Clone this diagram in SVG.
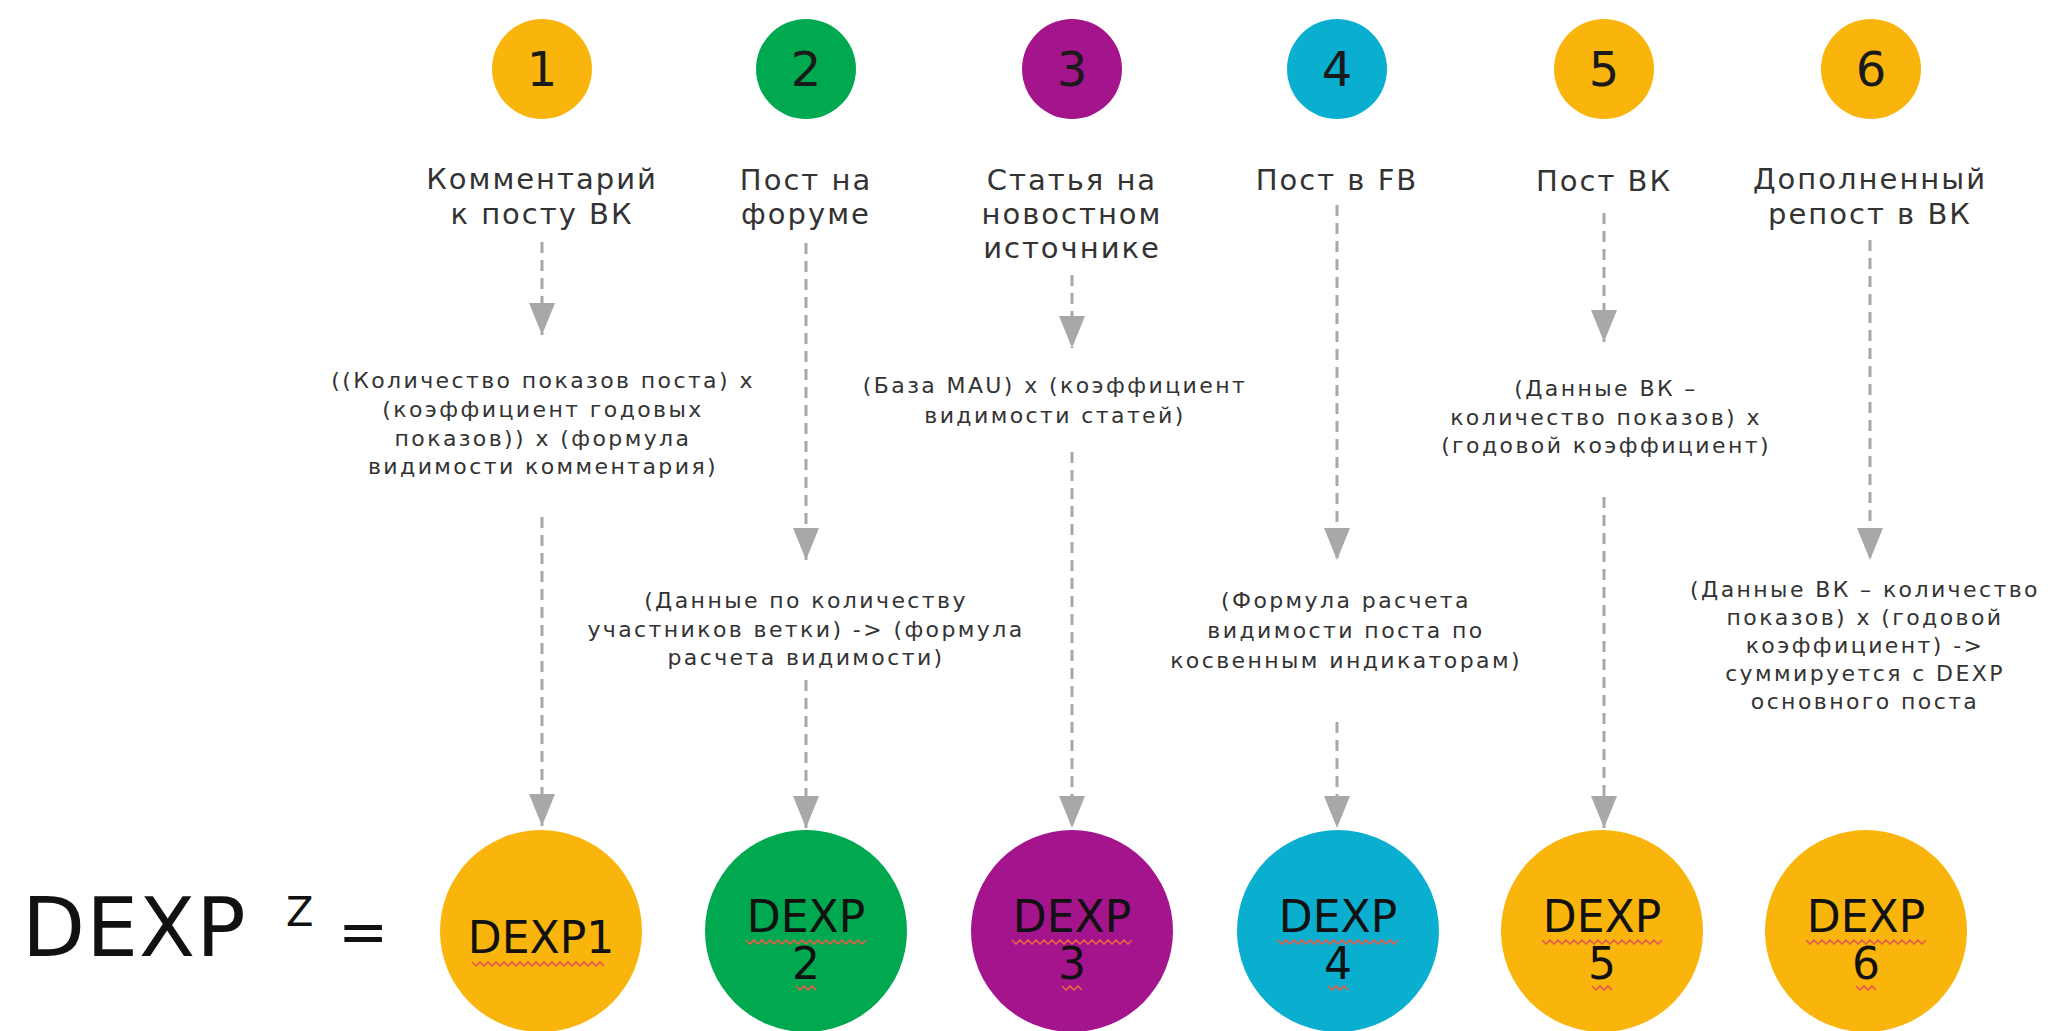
<svg xmlns="http://www.w3.org/2000/svg" width="2052" height="1031" viewBox="0 0 2052 1031">
<style>
.num{font-family:"DejaVu Sans",sans-serif;font-size:48px;fill:#1a1a1a;text-anchor:middle}
.title{font-family:"DejaVu Sans",sans-serif;font-size:29px;fill:#333;text-anchor:middle;letter-spacing:2px}
.form{font-family:"DejaVu Sans",sans-serif;font-size:22px;fill:#333;text-anchor:middle;letter-spacing:2.4px}
.dexp{font-family:"DejaVu Sans",sans-serif;font-size:44px;fill:#111;text-anchor:middle}
.big{font-family:"DejaVu Sans",sans-serif;fill:#111}
.conn{stroke:#a8a8a8;stroke-width:3;stroke-dasharray:11 7;fill:none}
.sq{stroke:#e85c4a;stroke-width:1.6;fill:none}
.y{fill:#f9b50c}.g{fill:#00a84f}.p{fill:#a3148d}.c{fill:#0aafd0}
</style>
<defs>
<marker id="ah" markerUnits="userSpaceOnUse" markerWidth="32" markerHeight="26" refX="32" refY="13" orient="auto" viewBox="0 0 32 26">
<path d="M0,0 L32,13 L0,26 Z" fill="#a8a8a8"/>
</marker>
</defs>
<rect width="2052" height="1031" fill="#fff"/>

<g id="connectors">
<line class="conn" x1="542" y1="242" x2="542" y2="335" marker-end="url(#ah)"/>
<line class="conn" x1="542" y1="517" x2="542" y2="826" marker-end="url(#ah)"/>
<line class="conn" x1="806" y1="243" x2="806" y2="560" marker-end="url(#ah)"/>
<line class="conn" x1="806" y1="680" x2="806" y2="828" marker-end="url(#ah)"/>
<line class="conn" x1="1072" y1="275" x2="1072" y2="348" marker-end="url(#ah)"/>
<line class="conn" x1="1072" y1="452" x2="1072" y2="828" marker-end="url(#ah)"/>
<line class="conn" x1="1337" y1="205" x2="1337" y2="560" marker-end="url(#ah)"/>
<line class="conn" x1="1337" y1="722" x2="1337" y2="828" marker-end="url(#ah)"/>
<line class="conn" x1="1604" y1="213" x2="1604" y2="342" marker-end="url(#ah)"/>
<line class="conn" x1="1604" y1="497" x2="1604" y2="828" marker-end="url(#ah)"/>
<line class="conn" x1="1870" y1="240" x2="1870" y2="560" marker-end="url(#ah)"/>
</g>

<g id="badge1"><circle class="y" cx="542" cy="69" r="50"/><text class="num" x="542" y="86">1</text></g>
<g id="badge2"><circle class="g" cx="806" cy="69" r="50"/><text class="num" x="806" y="86">2</text></g>
<g id="badge3"><circle class="p" cx="1072" cy="69" r="50"/><text class="num" x="1072" y="86">3</text></g>
<g id="badge4"><circle class="c" cx="1337" cy="69" r="50"/><text class="num" x="1337" y="86">4</text></g>
<g id="badge5"><circle class="y" cx="1604" cy="69" r="50"/><text class="num" x="1604" y="86">5</text></g>
<g id="badge6"><circle class="y" cx="1871" cy="69" r="50"/><text class="num" x="1871" y="86">6</text></g>

<g id="title1"><text class="title" x="542" y="189">Комментарий</text><text class="title" x="542" y="224">к посту ВК</text></g>
<g id="title2"><text class="title" x="806" y="190">Пост на</text><text class="title" x="806" y="224">форуме</text></g>
<g id="title3"><text class="title" x="1072" y="190">Статья на</text><text class="title" x="1072" y="224">новостном</text><text class="title" x="1072" y="258">источнике</text></g>
<g id="title4"><text class="title" x="1337" y="190">Пост в FB</text></g>
<g id="title5"><text class="title" x="1604" y="191">Пост ВК</text></g>
<g id="title6"><text class="title" x="1870" y="189">Дополненный</text><text class="title" x="1870" y="224">репост в ВК</text></g>

<g id="formula1">
<text class="form" x="543" y="388">((Количество показов  поста) х</text>
<text class="form" x="543" y="417">(коэффициент годовых</text>
<text class="form" x="543" y="446">показов)) х (формула</text>
<text class="form" x="543" y="474">видимости комментария)</text>
</g>
<g id="formula2">
<text class="form" x="806" y="608">(Данные по количеству</text>
<text class="form" x="806" y="637">участников ветки) -&gt; (формула</text>
<text class="form" x="806" y="665">расчета видимости)</text>
</g>
<g id="formula3">
<text class="form" x="1055" y="393">(База MAU) х (коэффициент</text>
<text class="form" x="1055" y="423">видимости статей)</text>
</g>
<g id="formula4">
<text class="form" x="1346" y="608">(Формула расчета</text>
<text class="form" x="1346" y="638">видимости поста по</text>
<text class="form" x="1346" y="668">косвенным индикаторам)</text>
</g>
<g id="formula5">
<text class="form" x="1606" y="396">(Данные ВК –</text>
<text class="form" x="1606" y="425">количество показов) х</text>
<text class="form" x="1606" y="453">(годовой коэффициент)</text>
</g>
<g id="formula6">
<text class="form" x="1865" y="597">(Данные ВК – количество</text>
<text class="form" x="1865" y="625">показов) х (годовой</text>
<text class="form" x="1865" y="653">коэффициент) -&gt;</text>
<text class="form" x="1865" y="681">суммируется с DEXP</text>
<text class="form" x="1865" y="709">основного поста</text>
</g>

<g id="lhs">
<text class="big" x="22" y="956" font-size="82" letter-spacing="1">DEXP</text>
<text class="big" x="286" y="926" font-size="40">Z</text>
<text class="big" x="338" y="952" font-size="60">=</text>
</g>

<g id="dexp1"><circle class="y" cx="541" cy="931" r="101"/><text class="dexp" x="541" y="953">DEXP1</text>
<path class="sq" d="M472,962 l4,4 l4,-4 l4,4 l4,-4 l4,4 l4,-4 l4,4 l4,-4 l4,4 l4,-4 l4,4 l4,-4 l4,4 l4,-4 l4,4 l4,-4 l4,4 l4,-4 l4,4 l4,-4 l4,4 l4,-4 l4,4 l4,-4 l4,4 l4,-4 l4,4 l4,-4 l4,4 l4,-4 l4,4 l4,-4 l4,4"/></g>
<g id="dexp2"><circle class="g" cx="806" cy="931" r="101"/><text class="dexp" x="806" y="932">DEXP</text><text class="dexp" x="806" y="979">2</text>
<path class="sq" d="M746,940 l4,4 l4,-4 l4,4 l4,-4 l4,4 l4,-4 l4,4 l4,-4 l4,4 l4,-4 l4,4 l4,-4 l4,4 l4,-4 l4,4 l4,-4 l4,4 l4,-4 l4,4 l4,-4 l4,4 l4,-4 l4,4 l4,-4 l4,4 l4,-4 l4,4 l4,-4 l4,4 l4,-4"/><path class="sq" d="M796,986 l4,4 l4,-4 l4,4 l4,-4 l4,4"/></g>
<g id="dexp3"><circle class="p" cx="1072" cy="931" r="101"/><text class="dexp" x="1072" y="932">DEXP</text><text class="dexp" x="1072" y="979">3</text>
<path class="sq" d="M1012,940 l4,4 l4,-4 l4,4 l4,-4 l4,4 l4,-4 l4,4 l4,-4 l4,4 l4,-4 l4,4 l4,-4 l4,4 l4,-4 l4,4 l4,-4 l4,4 l4,-4 l4,4 l4,-4 l4,4 l4,-4 l4,4 l4,-4 l4,4 l4,-4 l4,4 l4,-4 l4,4 l4,-4"/><path class="sq" d="M1062,986 l4,4 l4,-4 l4,4 l4,-4 l4,4"/></g>
<g id="dexp4"><circle class="c" cx="1338" cy="931" r="101"/><text class="dexp" x="1338" y="932">DEXP</text><text class="dexp" x="1338" y="979">4</text>
<path class="sq" d="M1278,940 l4,4 l4,-4 l4,4 l4,-4 l4,4 l4,-4 l4,4 l4,-4 l4,4 l4,-4 l4,4 l4,-4 l4,4 l4,-4 l4,4 l4,-4 l4,4 l4,-4 l4,4 l4,-4 l4,4 l4,-4 l4,4 l4,-4 l4,4 l4,-4 l4,4 l4,-4 l4,4 l4,-4"/><path class="sq" d="M1328,986 l4,4 l4,-4 l4,4 l4,-4 l4,4"/></g>
<g id="dexp5"><circle class="y" cx="1602" cy="931" r="101"/><text class="dexp" x="1602" y="932">DEXP</text><text class="dexp" x="1602" y="979">5</text>
<path class="sq" d="M1542,940 l4,4 l4,-4 l4,4 l4,-4 l4,4 l4,-4 l4,4 l4,-4 l4,4 l4,-4 l4,4 l4,-4 l4,4 l4,-4 l4,4 l4,-4 l4,4 l4,-4 l4,4 l4,-4 l4,4 l4,-4 l4,4 l4,-4 l4,4 l4,-4 l4,4 l4,-4 l4,4 l4,-4"/><path class="sq" d="M1592,986 l4,4 l4,-4 l4,4 l4,-4 l4,4"/></g>
<g id="dexp6"><circle class="y" cx="1866" cy="931" r="101"/><text class="dexp" x="1866" y="932">DEXP</text><text class="dexp" x="1866" y="979">6</text>
<path class="sq" d="M1806,940 l4,4 l4,-4 l4,4 l4,-4 l4,4 l4,-4 l4,4 l4,-4 l4,4 l4,-4 l4,4 l4,-4 l4,4 l4,-4 l4,4 l4,-4 l4,4 l4,-4 l4,4 l4,-4 l4,4 l4,-4 l4,4 l4,-4 l4,4 l4,-4 l4,4 l4,-4 l4,4 l4,-4"/><path class="sq" d="M1856,986 l4,4 l4,-4 l4,4 l4,-4 l4,4"/></g>
</svg>
